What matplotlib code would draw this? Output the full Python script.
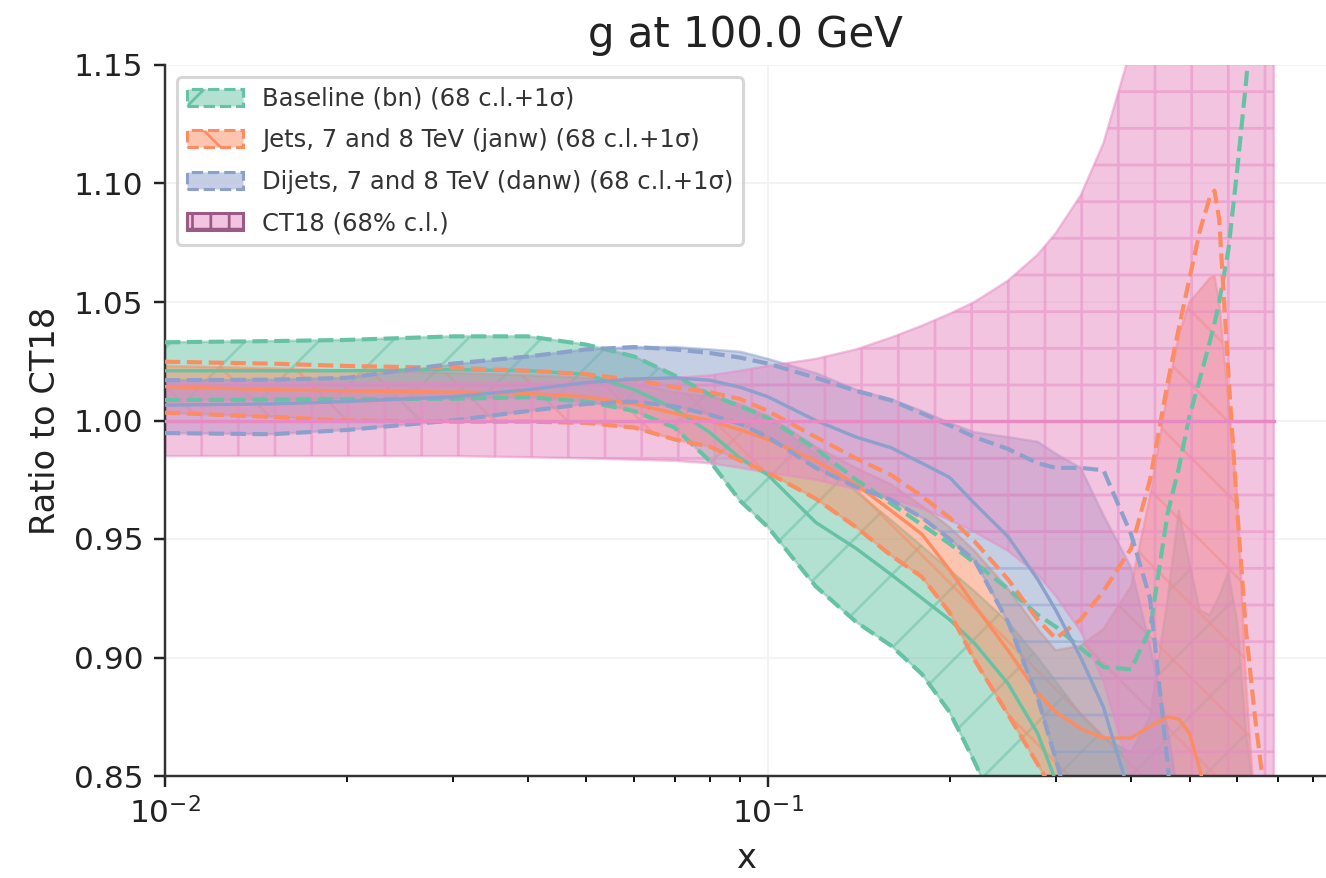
import matplotlib
matplotlib.use("Agg")
import matplotlib.pyplot as plt
from matplotlib.patches import Patch
from matplotlib.colors import to_rgba

# ---------------- data (ratio to CT18, g at Q = 100 GeV) ----------------
X = [0.01, 0.015, 0.02, 0.03, 0.04, 0.05, 0.06, 0.07, 0.08, 0.09, 0.1, 0.12, 0.14,
     0.16, 0.18, 0.2, 0.22, 0.25, 0.28, 0.3, 0.33, 0.36, 0.4, 0.43, 0.46, 0.48, 0.5,
     0.52, 0.54, 0.55, 0.56, 0.58, 0.6, 0.62, 0.64, 0.66, 0.68, 0.69]

# CT18 (reference)
CT18_CENTRAL = [1.0, 1.0, 1.0, 1.0, 1.0, 1.0, 1.0, 1.0, 1.0, 1.0, 1.0, 1.0, 1.0,
                1.0, 1.0, 1.0, 1.0, 1.0, 1.0, 1.0, 1.0, 1.0, 1.0, 1.0, 1.0, 1.0, 1.0,
                1.0, 1.0, 1.0, 1.0, 1.0, 1.0, 1.0, 1.0, 1.0, 1.0, 1.0]
CT18_HI = [1.016, 1.016, 1.016, 1.016, 1.016, 1.0165, 1.017, 1.018, 1.019, 1.021, 1.023,
           1.026, 1.030, 1.035, 1.040, 1.045, 1.050, 1.059, 1.070, 1.079, 1.095, 1.117,
           1.157, 1.20, 1.25, 1.29, 1.33, 1.38, 1.43, 1.45, 1.48, 1.55, 1.62, 1.70, 1.80,
           1.90, 2.0, 2.1]
CT18_LO = [0.985, 0.985, 0.985, 0.985, 0.9845, 0.984, 0.9835, 0.983, 0.982, 0.980, 0.978,
           0.975, 0.971, 0.967, 0.963, 0.958, 0.953, 0.945, 0.935, 0.926, 0.911, 0.89,
           0.85, 0.81, 0.77, 0.74, 0.71, 0.68, 0.65, 0.63, 0.61, 0.57, 0.53, 0.48, 0.43,
           0.38, 0.33, 0.30]

# Baseline (bn)
BN_CENTRAL = [1.021, 1.021, 1.021, 1.0215, 1.021, 1.0195, 1.013, 1.005, 0.995, 0.984, 0.977,
              0.957, 0.946, 0.935, 0.925, 0.916, 0.906, 0.889, 0.868, 0.848, 0.83, 0.81,
              0.79, 0.78, 0.77, 0.765, 0.76, 0.755, 0.75, 0.75, 0.75, 0.75, 0.75, 0.75,
              0.75, 0.75, 0.75, 0.75]
BN_SIG_HI = [1.033, 1.0335, 1.034, 1.0355, 1.0355, 1.032, 1.027, 1.019, 1.011, 1.006, 1.001,
             0.988, 0.975, 0.965, 0.956, 0.948, 0.940, 0.929, 0.918, 0.913, 0.904, 0.896,
             0.895, 0.912, 0.961, 0.980, 1.002, 1.0175, 1.033, 1.041, 1.050, 1.072, 1.106,
             1.142, 1.18, 1.24, 1.30, 1.33]
BN_SIG_LO = [1.0086, 1.0088, 1.009, 1.0092, 1.0098, 1.008, 1.004, 0.997, 0.983, 0.966, 0.955,
             0.930, 0.915, 0.905, 0.893, 0.877, 0.856, 0.825, 0.80, 0.78, 0.75, 0.72,
             0.69, 0.67, 0.65, 0.64, 0.63, 0.62, 0.61, 0.605, 0.60, 0.59, 0.58, 0.57,
             0.56, 0.55, 0.54, 0.53]
BN_CL_HI = [1.033, 1.0335, 1.034, 1.0355, 1.0355, 1.032, 1.027, 1.019, 1.011, 1.006, 1.001,
            0.986, 0.970, 0.958, 0.947, 0.937, 0.928, 0.915, 0.900, 0.890, 0.876, 0.866,
            0.860, 0.875, 0.925, 0.962, 0.940, 0.920, 0.918, 0.922, 0.926, 0.936, 0.915,
            0.87, 0.84, 0.82, 0.80, 0.79]

# Jets, 7 and 8 TeV (janw)
JANW_CENTRAL = [1.0143, 1.013, 1.0125, 1.012, 1.0114, 1.010, 1.007, 1.003, 1.000, 0.996, 0.992,
                0.983, 0.973, 0.962, 0.952, 0.937, 0.922, 0.903, 0.885, 0.877, 0.870, 0.866,
                0.866, 0.871, 0.875, 0.874, 0.868, 0.853, 0.835, 0.83, 0.825, 0.815, 0.805,
                0.795, 0.785, 0.775, 0.765, 0.76]
JANW_SIG_HI = [1.0248, 1.024, 1.023, 1.0222, 1.021, 1.0195, 1.0172, 1.014, 1.012, 1.009, 1.004,
               0.993, 0.984, 0.977, 0.968, 0.959, 0.949, 0.933, 0.916, 0.908, 0.916, 0.928,
               0.946, 0.975, 1.016, 1.039, 1.060, 1.080, 1.094, 1.097, 1.085, 1.02, 0.962,
               0.912, 0.878, 0.850, 0.82, 0.80]
JANW_SIG_LO = [1.0033, 1.0015, 1.000, 0.9995, 0.9995, 0.999, 0.997, 0.992, 0.989, 0.983, 0.978,
               0.967, 0.955, 0.943, 0.934, 0.919, 0.899, 0.876, 0.855, 0.842, 0.83, 0.815,
               0.80, 0.79, 0.78, 0.775, 0.77, 0.765, 0.76, 0.755, 0.75, 0.745, 0.74, 0.735,
               0.73, 0.725, 0.72, 0.715]
JANW_CL_HI = [1.023, 1.022, 1.021, 1.020, 1.019, 1.018, 1.0155, 1.012, 1.010, 1.007, 1.002,
              0.989, 0.980, 0.973, 0.964, 0.955, 0.945, 0.929, 0.912, 0.903, 0.905, 0.912,
              0.930, 0.968, 1.012, 1.036, 1.050, 1.055, 1.060, 1.061, 1.050, 1.008, 0.968,
              0.89, 0.84, 0.81, 0.79, 0.78]

# Dijets, 7 and 8 TeV (danw)
DANW_CENTRAL = [1.0065, 1.007, 1.008, 1.010, 1.013, 1.016, 1.0175, 1.018, 1.017, 1.014, 1.010,
                1.000, 0.993, 0.9885, 0.982, 0.976, 0.965, 0.951, 0.933, 0.920, 0.900, 0.879,
                0.84, 0.81, 0.78, 0.765, 0.75, 0.74, 0.73, 0.725, 0.72, 0.71, 0.70, 0.69,
                0.68, 0.67, 0.66, 0.65]
DANW_SIG_HI = [1.017, 1.0172, 1.018, 1.024, 1.027, 1.030, 1.031, 1.030, 1.0285, 1.0265, 1.024,
               1.018, 1.0125, 1.0085, 1.003, 0.998, 0.993, 0.988, 0.982, 0.980, 0.980, 0.979,
               0.952, 0.925, 0.855, 0.80, 0.75, 0.72, 0.70, 0.69, 0.68, 0.67, 0.66, 0.65,
               0.64, 0.63, 0.62, 0.61]
DANW_SIG_LO = [0.9947, 0.9942, 0.996, 1.000, 1.004, 1.007, 1.008, 1.006, 1.0025, 0.9985, 0.993,
               0.980, 0.972, 0.9665, 0.959, 0.950, 0.941, 0.915, 0.883, 0.857, 0.82, 0.79,
               0.76, 0.74, 0.72, 0.71, 0.70, 0.69, 0.68, 0.675, 0.67, 0.66, 0.65, 0.64,
               0.63, 0.62, 0.61, 0.60]
DANW_CL_HI = [1.017, 1.0172, 1.018, 1.0235, 1.027, 1.030, 1.031, 1.031, 1.030, 1.029, 1.026,
              1.020, 1.013, 1.009, 1.004, 0.999, 0.995, 0.993, 0.991, 0.986, 0.980, 0.960,
              0.938, 0.905, 0.87, 0.84, 0.82, 0.80, 0.78, 0.77, 0.76, 0.75, 0.74, 0.73,
              0.72, 0.71, 0.70, 0.69]

LABELS = ["Baseline (bn) (68 c.l.+1σ)",
          "Jets, 7 and 8 TeV (janw) (68 c.l.+1σ)",
          "Dijets, 7 and 8 TeV (danw) (68 c.l.+1σ)",
          "CT18 (68% c.l.)"]
COLORS = ["#66c2a5", "#fc8d62", "#8da0cb", "#e78ac3"]
HATCHES = ["/", "\\", "-", "+"]

# ---------------- figure ----------------
plt.rcParams["font.family"] = ["DejaVu Sans"]
plt.rcParams["hatch.linewidth"] = 0.9
DPI = 220
fig = plt.figure(figsize=(1326 / DPI, 878 / DPI), dpi=DPI)
ax = fig.add_axes([165 / 1326, (878 - 776) / 878, (1326 - 165) / 1326, (776 - 65) / 878])
ax.set_xscale("log")

sets = [
    (BN_CENTRAL, BN_SIG_LO, BN_SIG_HI, BN_SIG_LO, BN_CL_HI),
    (JANW_CENTRAL, JANW_SIG_LO, JANW_SIG_HI, JANW_SIG_LO, JANW_CL_HI),
    (DANW_CENTRAL, DANW_SIG_LO, DANW_SIG_HI, DANW_SIG_LO, DANW_CL_HI),
]
handles = []
for i, (cen, slo, shi, blo, bhi) in enumerate(sets):
    c = COLORS[i]
    ax.fill_between(X, blo, bhi, color=c, alpha=0.5, hatch=HATCHES[i], linewidth=0.8, zorder=2)
    ax.plot(X, slo, color=c, ls="--", lw=1.35, zorder=3)
    ax.plot(X, shi, color=c, ls="--", lw=1.35, zorder=3)
    ax.plot(X, cen, color=c, ls="-", lw=1.1, zorder=3)
    handles.append(Patch(facecolor=to_rgba(c, 0.5), edgecolor=c, hatch=HATCHES[i],
                         linestyle="--", linewidth=1.0))

c = COLORS[3]
ax.fill_between(X, CT18_LO, CT18_HI, color=c, alpha=0.5, hatch=HATCHES[3], linewidth=0.8, zorder=2)
ax.plot(X, CT18_CENTRAL, color=c, lw=1.1, zorder=3)
handles.append(Patch(facecolor=to_rgba(c, 0.5), edgecolor="#9a5a86", hatch="++", linewidth=1.0))

ax.set_xlim(0.01, 0.842)
ax.set_ylim(0.85, 1.15)
ax.set_yticks([0.85, 0.90, 0.95, 1.00, 1.05, 1.10, 1.15])
ax.set_yticklabels(["0.85", "0.90", "0.95", "1.00", "1.05", "1.10", "1.15"])

for s in ["top", "right"]:
    ax.spines[s].set_visible(False)
ax.spines["left"].set_color("#333333")
ax.spines["bottom"].set_color("#333333")
ax.set_axisbelow(True)
ax.grid(True, which="major", color="#f3f3f3", lw=0.6)
ax.tick_params(axis="both", which="major", labelsize=10.2, colors="#222222")

ax.set_xlabel("x", fontsize=11, color="#222222")
ax.set_ylabel("Ratio to CT18", fontsize=11, color="#222222")
ax.set_title("g at 100.0 GeV", fontsize=13.7, color="#222222")

leg = ax.legend(handles, LABELS, loc="upper left", fontsize=7.95, handlelength=2.3,
                labelspacing=0.72, framealpha=0.8, edgecolor="#cccccc")
for t in leg.get_texts():
    t.set_color("#333333")

fig.savefig("out.png", dpi=DPI)
